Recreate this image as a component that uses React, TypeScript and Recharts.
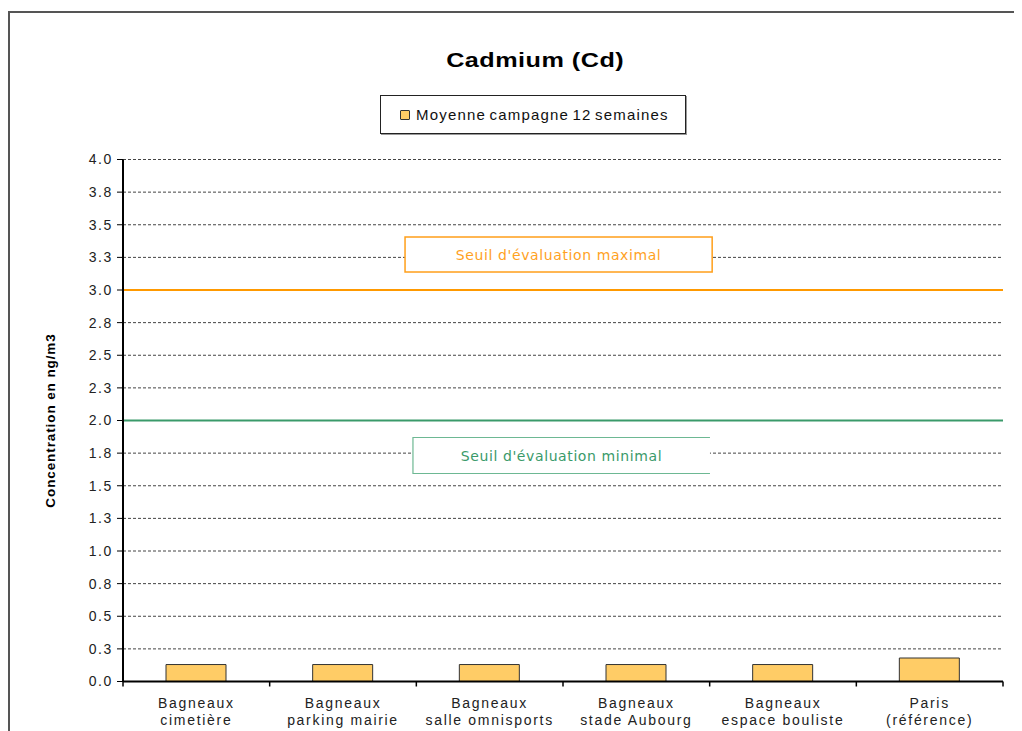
import React from "react";
import { BarChart, Bar, XAxis, YAxis, CartesianGrid, ReferenceLine, Legend } from "recharts";

const SITE_NAMES = ["Bagneaux", "Bagneaux", "Bagneaux", "Bagneaux", "Bagneaux", "Paris"];
const SITE_DETAILS = ["cimetière", "parking mairie", "salle omnisports", "stade Aubourg", "espace bouliste", "(référence)"];
const MEAN_CD = [0.13, 0.13, 0.13, 0.13, 0.13, 0.18];
const Y_TICKS = [0, 0.25, 0.5, 0.75, 1, 1.25, 1.5, 1.75, 2, 2.25, 2.5, 2.75, 3, 3.25, 3.5, 3.75, 4];
const SEUIL_MAX = 3;
const SEUIL_MIN = 2;
const SERIES_NAME = "Moyenne campagne 12 semaines";

const data = SITE_NAMES.map((name, i) => ({
  site: `${name}\n${SITE_DETAILS[i]}`,
  value: MEAN_CD[i],
}));

const FONT = "'Liberation Sans', Arial, sans-serif";
const BOX_FONT = "'DejaVu Sans', Verdana, sans-serif";

function SiteTick(props: any) {
  const { x, y, payload, index, width, visibleTicksCount } = props;
  const band = width / (visibleTicksCount || SITE_NAMES.length);
  const [l1, l2] = String(payload.value).split("\n");
  return (
    <g>
      {index === 0 && <line x1={x - band / 2} x2={x - band / 2} y1={y} y2={y + 5} stroke="#000" strokeWidth={1.5} />}
      <line x1={x + band / 2} x2={x + band / 2} y1={y} y2={y + 5} stroke="#000" strokeWidth={1.5} />
      <text x={x} y={y + 26.5} textAnchor="middle" fontFamily={FONT} fontSize={14} letterSpacing={1.7} fill="#222">
        {l1}
      </text>
      <text x={x} y={y + 43.5} textAnchor="middle" fontFamily={FONT} fontSize={14} letterSpacing={1.7} fill="#222">
        {l2}
      </text>
    </g>
  );
}

// boxed caption next to a threshold line
function ThresholdBox(props: any) {
  const { viewBox, text, color, stroke, left, span, top, height, openRight } = props;
  const bx = viewBox.x + viewBox.width * left;
  const bw = viewBox.width * span;
  const by = viewBox.y + top;
  return (
    <g>
      <rect x={bx} y={by} width={bw} height={height} fill="#fff" stroke="none" />
      {openRight ? (
        <path d={`M${bx + bw},${by} H${bx} V${by + height} H${bx + bw}`} fill="none" stroke={stroke} strokeWidth={1.2} />
      ) : (
        <rect x={bx} y={by} width={bw} height={height} fill="none" stroke={stroke} strokeWidth={1.5} />
      )}
      <text
        x={bx + bw / 2}
        y={by + height / 2 + 5}
        textAnchor="middle"
        fontFamily={BOX_FONT}
        fontSize={14}
        letterSpacing={0.6}
        fill={color}
      >
        {text}
      </text>
    </g>
  );
}

function LegendBox() {
  return (
    <div
      style={{
        boxSizing: "border-box",
        width: 306,
        height: 39,
        border: "1.5px solid #222",
        boxShadow: "1px 1px 0 #999",
        background: "#fff",
        display: "flex",
        alignItems: "center",
        paddingLeft: 19,
        fontFamily: FONT,
        fontSize: 15,
        letterSpacing: 1.2,
        wordSpacing: -2,
        color: "#111",
        whiteSpace: "nowrap",
      }}
    >
      <span
        style={{
          display: "inline-block",
          flex: "none",
          width: 8,
          height: 8,
          background: "#FFCC66",
          border: "1px solid #333",
          borderRadius: 1,
          marginRight: 6,
        }}
      />
      {SERIES_NAME}
    </div>
  );
}

export default function App() {
  return (
    <div style={{ paddingTop: 3 }}>
      <div
        style={{
          position: "relative",
          width: 1012,
          height: 718,
          borderTop: "2px solid #555",
          borderLeft: "2px solid #555",
          overflow: "hidden",
          background: "#fff",
        }}
      >
        <div
          style={{
            position: "absolute",
            left: 0,
            top: 35,
            width: 1050,
            textAlign: "center",
            lineHeight: "24px",
          }}
        >
          <span
            style={{
              display: "inline-block",
              transform: "scaleX(1.2)",
              fontFamily: FONT,
              fontWeight: "bold",
              fontSize: 21,
              letterSpacing: 0.4,
              color: "#000",
            }}
          >
            Cadmium (Cd)
          </span>
        </div>
        <BarChart width={1012} height={718} data={data} margin={{ top: 146.5, right: 19, left: 0, bottom: 0 }}>
          <CartesianGrid vertical={false} stroke="#444" strokeDasharray="3 2" />
          <XAxis
            dataKey="site"
            height={49.5}
            interval={0}
            tickLine={false}
            tickSize={0}
            tickMargin={0}
            axisLine={{ stroke: "#000", strokeWidth: 2 }}
            tick={<SiteTick />}
          />
          <YAxis
            width={113}
            domain={[0, 4]}
            ticks={Y_TICKS}
            interval={0}
            tickFormatter={(v: number) => v.toFixed(1)}
            tickSize={6}
            tickMargin={4}
            tickLine={{ stroke: "#000" }}
            axisLine={{ stroke: "#000", strokeWidth: 2 }}
            tick={{ fontFamily: FONT, fontSize: 14, fill: "#222", letterSpacing: 1.6 }}
            label={{
              value: "Concentration en ng/m3",
              angle: -90,
              position: "center",
              dx: -16.5,
              style: { fontFamily: FONT, fontSize: 13.5, fontWeight: "bold", fill: "#000", letterSpacing: 0.9 },
            }}
          />
          <YAxis
            yAxisId="r"
            orientation="right"
            width={0}
            domain={[0, 4]}
            tick={false}
            tickLine={false}
            axisLine={{ stroke: "#999", strokeWidth: 1.5 }}
          />
          <Legend
            layout="vertical"
            align="center"
            verticalAlign="top"
            wrapperStyle={{ top: 82, left: 370, width: 306, height: 0 }}
            content={<LegendBox />}
          />
          <ReferenceLine
            y={SEUIL_MAX}
            stroke="#FF9900"
            strokeWidth={2}
            label={
              <ThresholdBox
                text="Seuil d'évaluation maximal"
                color="#FFA21F"
                stroke="#FF9F1A"
                left={0.3205}
                span={0.349}
                top={-53}
                height={35}
              />
            }
          />
          <ReferenceLine
            y={SEUIL_MIN}
            stroke="#3A9A6A"
            strokeWidth={2.2}
            label={
              <ThresholdBox
                text="Seuil d'évaluation minimal"
                color="#3A9A6A"
                stroke="#6DB893"
                left={0.3295}
                span={0.3375}
                top={17}
                height={36}
                openRight
              />
            }
          />
          <Bar dataKey="value" name={SERIES_NAME} fill="#FFCC66" stroke="#333" strokeWidth={1} barSize={60} isAnimationActive={false} />
        </BarChart>
      </div>
    </div>
  );
}
